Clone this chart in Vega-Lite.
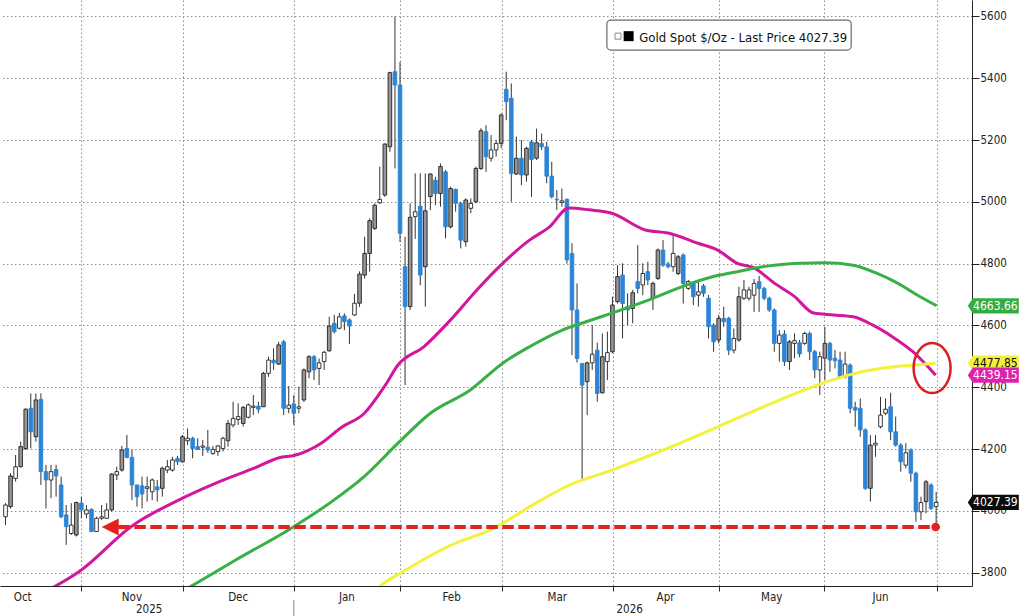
{
  "$schema": "https://vega.github.io/schema/vega-lite/v6.json",
  "width": 972,
  "height": 586,
  "autosize": {"type": "none"},
  "padding": {"left": 0, "top": 0, "right": 52, "bottom": 30},
  "background": "white",
  "config": {
    "view": {"stroke": null},
    "font": "DejaVu Sans Condensed",
    "axis": {"labelFont": "DejaVu Sans Condensed"},
    "text": {"font": "DejaVu Sans Condensed"}
  },
  "datasets": {
    "candles": [
      {"n":0,"o":3981,"h":4025,"l":3954,"c":4019},
      {"n":1,"o":4014,"h":4122,"l":4008,"c":4113},
      {"n":2,"o":4105,"h":4181,"l":4095,"c":4143},
      {"n":3,"o":4143,"h":4224,"l":4140,"c":4208},
      {"n":4,"o":4202,"h":4332,"l":4197,"c":4329},
      {"n":5,"o":4332,"h":4380,"l":4202,"c":4256},
      {"n":6,"o":4240,"h":4380,"l":4224,"c":4359},
      {"n":7,"o":4361,"h":4380,"l":4084,"c":4127},
      {"n":8,"o":4127,"h":4149,"l":4008,"c":4100},
      {"n":9,"o":4100,"h":4149,"l":4041,"c":4127},
      {"n":10,"o":4134,"h":4149,"l":4046,"c":4113},
      {"n":11,"o":4084,"h":4111,"l":3976,"c":3981},
      {"n":12,"o":3987,"h":4019,"l":3890,"c":3949},
      {"n":13,"o":3927,"h":4025,"l":3922,"c":3954},
      {"n":14,"o":3922,"h":4030,"l":3917,"c":4027},
      {"n":15,"o":4025,"h":4046,"l":3976,"c":4003},
      {"n":16,"o":3990,"h":4019,"l":3976,"c":4003},
      {"n":17,"o":4005,"h":4008,"l":3933,"c":3933},
      {"n":18,"o":3933,"h":3981,"l":3933,"c":3976},
      {"n":19,"o":3976,"h":4019,"l":3971,"c":3981},
      {"n":20,"o":3976,"h":4025,"l":3976,"c":4003},
      {"n":21,"o":4003,"h":4122,"l":3998,"c":4119},
      {"n":22,"o":4116,"h":4143,"l":4100,"c":4127},
      {"n":23,"o":4132,"h":4210,"l":4127,"c":4197},
      {"n":24,"o":4202,"h":4246,"l":4170,"c":4173},
      {"n":25,"o":4173,"h":4197,"l":4035,"c":4084},
      {"n":26,"o":4084,"h":4084,"l":4014,"c":4046},
      {"n":27,"o":4081,"h":4111,"l":4008,"c":4055},
      {"n":28,"o":4073,"h":4111,"l":4030,"c":4078},
      {"n":29,"o":4062,"h":4105,"l":4035,"c":4100},
      {"n":30,"o":4078,"h":4100,"l":4030,"c":4068},
      {"n":31,"o":4073,"h":4143,"l":4046,"c":4138},
      {"n":32,"o":4132,"h":4165,"l":4122,"c":4143},
      {"n":33,"o":4132,"h":4175,"l":4127,"c":4165},
      {"n":34,"o":4170,"h":4178,"l":4149,"c":4159},
      {"n":35,"o":4159,"h":4246,"l":4156,"c":4240},
      {"n":36,"o":4227,"h":4267,"l":4213,"c":4235},
      {"n":37,"o":4235,"h":4240,"l":4170,"c":4202},
      {"n":38,"o":4208,"h":4235,"l":4197,"c":4199},
      {"n":39,"o":4206,"h":4229,"l":4178,"c":4210},
      {"n":40,"o":4206,"h":4262,"l":4188,"c":4197},
      {"n":41,"o":4186,"h":4210,"l":4181,"c":4199},
      {"n":42,"o":4192,"h":4213,"l":4178,"c":4210},
      {"n":43,"o":4202,"h":4240,"l":4192,"c":4235},
      {"n":44,"o":4227,"h":4294,"l":4208,"c":4283},
      {"n":45,"o":4278,"h":4353,"l":4270,"c":4299},
      {"n":46,"o":4296,"h":4348,"l":4278,"c":4305},
      {"n":47,"o":4283,"h":4339,"l":4273,"c":4335},
      {"n":48,"o":4303,"h":4348,"l":4299,"c":4343},
      {"n":49,"o":4335,"h":4375,"l":4310,"c":4339},
      {"n":50,"o":4339,"h":4353,"l":4316,"c":4329},
      {"n":51,"o":4337,"h":4450,"l":4337,"c":4445},
      {"n":52,"o":4445,"h":4499,"l":4434,"c":4488},
      {"n":53,"o":4488,"h":4526,"l":4456,"c":4479},
      {"n":54,"o":4475,"h":4547,"l":4472,"c":4537},
      {"n":55,"o":4547,"h":4553,"l":4310,"c":4332},
      {"n":56,"o":4332,"h":4404,"l":4316,"c":4342},
      {"n":57,"o":4346,"h":4375,"l":4278,"c":4316},
      {"n":58,"o":4332,"h":4402,"l":4316,"c":4337},
      {"n":59,"o":4359,"h":4461,"l":4353,"c":4456},
      {"n":60,"o":4450,"h":4504,"l":4429,"c":4499},
      {"n":61,"o":4499,"h":4504,"l":4423,"c":4456},
      {"n":62,"o":4461,"h":4493,"l":4407,"c":4479},
      {"n":63,"o":4483,"h":4518,"l":4456,"c":4513},
      {"n":64,"o":4518,"h":4628,"l":4515,"c":4598},
      {"n":65,"o":4607,"h":4634,"l":4574,"c":4580},
      {"n":66,"o":4591,"h":4641,"l":4587,"c":4628},
      {"n":67,"o":4631,"h":4639,"l":4585,"c":4612},
      {"n":68,"o":4618,"h":4623,"l":4540,"c":4598},
      {"n":69,"o":4634,"h":4702,"l":4631,"c":4672},
      {"n":70,"o":4672,"h":4775,"l":4660,"c":4766},
      {"n":71,"o":4763,"h":4887,"l":4752,"c":4833},
      {"n":72,"o":4833,"h":4946,"l":4774,"c":4939},
      {"n":73,"o":4914,"h":4995,"l":4909,"c":4989},
      {"n":74,"o":4997,"h":5114,"l":4993,"c":5008},
      {"n":75,"o":5022,"h":5189,"l":5016,"c":5187},
      {"n":76,"o":5178,"h":5421,"l":5162,"c":5418},
      {"n":77,"o":5421,"h":5599,"l":5108,"c":5378},
      {"n":78,"o":5378,"h":5453,"l":4870,"c":4898},
      {"n":79,"o":4790,"h":4887,"l":4407,"c":4661},
      {"n":80,"o":4661,"h":4995,"l":4650,"c":4950},
      {"n":81,"o":4952,"h":5092,"l":4880,"c":4968},
      {"n":82,"o":4986,"h":5092,"l":4730,"c":4763},
      {"n":83,"o":4790,"h":5092,"l":4661,"c":4971},
      {"n":84,"o":5017,"h":5092,"l":4973,"c":5090},
      {"n":85,"o":5070,"h":5081,"l":4989,"c":5027},
      {"n":86,"o":5027,"h":5124,"l":4984,"c":5114},
      {"n":87,"o":5097,"h":5103,"l":4882,"c":4919},
      {"n":88,"o":4919,"h":5049,"l":4914,"c":5043},
      {"n":89,"o":5040,"h":5043,"l":4968,"c":4995},
      {"n":90,"o":4995,"h":5000,"l":4849,"c":4876},
      {"n":91,"o":4871,"h":5011,"l":4855,"c":5006},
      {"n":92,"o":4979,"h":5011,"l":4963,"c":4995},
      {"n":93,"o":5000,"h":5114,"l":4995,"c":5108},
      {"n":94,"o":5108,"h":5238,"l":5103,"c":5230},
      {"n":95,"o":5227,"h":5248,"l":5097,"c":5146},
      {"n":96,"o":5141,"h":5216,"l":5130,"c":5168},
      {"n":97,"o":5168,"h":5200,"l":5146,"c":5189},
      {"n":98,"o":5189,"h":5286,"l":5173,"c":5281},
      {"n":99,"o":5364,"h":5421,"l":5264,"c":5324},
      {"n":100,"o":5335,"h":5383,"l":5000,"c":5092},
      {"n":101,"o":5090,"h":5211,"l":5087,"c":5141},
      {"n":102,"o":5141,"h":5200,"l":5054,"c":5087},
      {"n":103,"o":5087,"h":5178,"l":5065,"c":5173},
      {"n":104,"o":5194,"h":5200,"l":5016,"c":5137},
      {"n":105,"o":5141,"h":5237,"l":5135,"c":5191},
      {"n":106,"o":5189,"h":5221,"l":5168,"c":5178},
      {"n":107,"o":5178,"h":5194,"l":5060,"c":5083},
      {"n":108,"o":5083,"h":5130,"l":5011,"c":5016},
      {"n":109,"o":5008,"h":5038,"l":4973,"c":5006},
      {"n":110,"o":4998,"h":5043,"l":4984,"c":5003},
      {"n":111,"o":5008,"h":5011,"l":4800,"c":4812},
      {"n":112,"o":4833,"h":4866,"l":4504,"c":4650},
      {"n":113,"o":4650,"h":4736,"l":4480,"c":4493},
      {"n":114,"o":4477,"h":4477,"l":4100,"c":4407},
      {"n":115,"o":4418,"h":4483,"l":4310,"c":4479},
      {"n":116,"o":4479,"h":4601,"l":4456,"c":4507},
      {"n":117,"o":4520,"h":4544,"l":4353,"c":4380},
      {"n":118,"o":4382,"h":4574,"l":4380,"c":4499},
      {"n":119,"o":4483,"h":4580,"l":4423,"c":4512},
      {"n":120,"o":4515,"h":4693,"l":4510,"c":4666},
      {"n":121,"o":4677,"h":4795,"l":4671,"c":4758},
      {"n":122,"o":4763,"h":4801,"l":4558,"c":4671},
      {"n":123,"o":4661,"h":4704,"l":4601,"c":4650},
      {"n":124,"o":4655,"h":4715,"l":4607,"c":4706},
      {"n":125,"o":4742,"h":4860,"l":4704,"c":4720},
      {"n":126,"o":4731,"h":4801,"l":4698,"c":4768},
      {"n":127,"o":4774,"h":4806,"l":4731,"c":4747},
      {"n":128,"o":4688,"h":4742,"l":4650,"c":4736},
      {"n":129,"o":4752,"h":4849,"l":4747,"c":4844},
      {"n":130,"o":4844,"h":4876,"l":4790,"c":4795},
      {"n":131,"o":4799,"h":4806,"l":4785,"c":4790},
      {"n":132,"o":4790,"h":4898,"l":4774,"c":4833},
      {"n":133,"o":4768,"h":4828,"l":4763,"c":4822},
      {"n":134,"o":4828,"h":4833,"l":4671,"c":4736},
      {"n":135,"o":4720,"h":4747,"l":4715,"c":4742},
      {"n":136,"o":4736,"h":4742,"l":4666,"c":4693},
      {"n":137,"o":4698,"h":4742,"l":4661,"c":4709},
      {"n":138,"o":4728,"h":4734,"l":4693,"c":4704},
      {"n":139,"o":4688,"h":4699,"l":4558,"c":4596},
      {"n":140,"o":4601,"h":4607,"l":4515,"c":4547},
      {"n":141,"o":4553,"h":4634,"l":4542,"c":4623},
      {"n":142,"o":4623,"h":4661,"l":4596,"c":4612},
      {"n":143,"o":4623,"h":4628,"l":4504,"c":4520},
      {"n":144,"o":4520,"h":4590,"l":4510,"c":4558},
      {"n":145,"o":4553,"h":4725,"l":4547,"c":4693},
      {"n":146,"o":4688,"h":4747,"l":4682,"c":4715},
      {"n":147,"o":4688,"h":4725,"l":4680,"c":4715},
      {"n":148,"o":4698,"h":4750,"l":4644,"c":4736},
      {"n":149,"o":4742,"h":4760,"l":4644,"c":4720},
      {"n":150,"o":4720,"h":4725,"l":4682,"c":4688},
      {"n":151,"o":4688,"h":4693,"l":4644,"c":4650},
      {"n":152,"o":4650,"h":4655,"l":4515,"c":4542},
      {"n":153,"o":4542,"h":4585,"l":4483,"c":4569},
      {"n":154,"o":4572,"h":4585,"l":4469,"c":4483},
      {"n":155,"o":4483,"h":4553,"l":4456,"c":4547},
      {"n":156,"o":4542,"h":4574,"l":4494,"c":4551},
      {"n":157,"o":4544,"h":4553,"l":4497,"c":4508},
      {"n":158,"o":4542,"h":4580,"l":4537,"c":4574},
      {"n":159,"o":4574,"h":4580,"l":4488,"c":4515},
      {"n":160,"o":4515,"h":4521,"l":4429,"c":4456},
      {"n":161,"o":4456,"h":4515,"l":4375,"c":4499},
      {"n":162,"o":4494,"h":4596,"l":4423,"c":4542},
      {"n":163,"o":4542,"h":4547,"l":4450,"c":4488},
      {"n":164,"o":4494,"h":4521,"l":4461,"c":4486},
      {"n":165,"o":4488,"h":4515,"l":4429,"c":4434},
      {"n":166,"o":4434,"h":4515,"l":4429,"c":4475},
      {"n":167,"o":4472,"h":4477,"l":4316,"c":4332},
      {"n":168,"o":4335,"h":4353,"l":4272,"c":4326},
      {"n":169,"o":4332,"h":4364,"l":4240,"c":4262},
      {"n":170,"o":4262,"h":4267,"l":4068,"c":4073},
      {"n":171,"o":4073,"h":4245,"l":4030,"c":4213},
      {"n":172,"o":4213,"h":4245,"l":4175,"c":4219},
      {"n":173,"o":4272,"h":4369,"l":4267,"c":4310},
      {"n":174,"o":4316,"h":4364,"l":4310,"c":4329},
      {"n":175,"o":4337,"h":4382,"l":4229,"c":4256},
      {"n":176,"o":4256,"h":4305,"l":4208,"c":4213},
      {"n":177,"o":4213,"h":4219,"l":4127,"c":4159},
      {"n":178,"o":4148,"h":4219,"l":4138,"c":4188},
      {"n":179,"o":4197,"h":4202,"l":4094,"c":4122},
      {"n":180,"o":4122,"h":4127,"l":3965,"c":3997},
      {"n":181,"o":3997,"h":4046,"l":3970,"c":4027},
      {"n":182,"o":4030,"h":4100,"l":3992,"c":4094},
      {"n":183,"o":4084,"h":4089,"l":4003,"c":4008},
      {"n":184,"o":4014,"h":4062,"l":3944,"c":4027.39}
    ],
    "ma": [
      {"s":"50D","n":7.5,"v":3735},{"s":"50D","n":15.0,"v":3809},{"s":"50D","n":24.8,"v":3949},{"s":"50D","n":35.1,"v":4042},
      {"s":"50D","n":41.6,"v":4090},{"s":"50D","n":49.4,"v":4140},{"s":"50D","n":54.1,"v":4172},{"s":"50D","n":57.2,"v":4180},
      {"s":"50D","n":62.5,"v":4220},{"s":"50D","n":66.4,"v":4270},{"s":"50D","n":70.9,"v":4315},{"s":"50D","n":74.9,"v":4402},
      {"s":"50D","n":77.6,"v":4472},{"s":"50D","n":82.7,"v":4531},{"s":"50D","n":88.0,"v":4618},{"s":"50D","n":93.2,"v":4715},
      {"s":"50D","n":98.3,"v":4801},{"s":"50D","n":103.6,"v":4876},{"s":"50D","n":107.5,"v":4918},{"s":"50D","n":111.4,"v":4980},
      {"s":"50D","n":115.4,"v":4974},{"s":"50D","n":119.9,"v":4963},{"s":"50D","n":126.5,"v":4909},{"s":"50D","n":131.0,"v":4899},
      {"s":"50D","n":136.9,"v":4866},{"s":"50D","n":140.8,"v":4844},{"s":"50D","n":144.7,"v":4801},{"s":"50D","n":148.0,"v":4786},
      {"s":"50D","n":152.0,"v":4737},{"s":"50D","n":155.9,"v":4695},{"s":"50D","n":159.8,"v":4640},{"s":"50D","n":163.7,"v":4634},
      {"s":"50D","n":167.6,"v":4628},{"s":"50D","n":171.5,"v":4601},{"s":"50D","n":175.4,"v":4563},{"s":"50D","n":179.4,"v":4515},
      {"s":"50D","n":183.9,"v":4439.15},
      {"s":"100D","n":34.7,"v":3737},{"s":"100D","n":37.1,"v":3760},{"s":"100D","n":45.5,"v":3841},{"s":"100D","n":57.0,"v":3949},
      {"s":"100D","n":64.5,"v":4030},{"s":"100D","n":70.9,"v":4111},{"s":"100D","n":77.6,"v":4219},{"s":"100D","n":84.0,"v":4316},
      {"s":"100D","n":91.9,"v":4391},{"s":"100D","n":98.3,"v":4478},{"s":"100D","n":103.6,"v":4531},{"s":"100D","n":110.1,"v":4585},
      {"s":"100D","n":114.8,"v":4612},{"s":"100D","n":119.9,"v":4640},{"s":"100D","n":127.1,"v":4682},{"s":"100D","n":134.3,"v":4729},
      {"s":"100D","n":139.4,"v":4756},{"s":"100D","n":144.7,"v":4774},{"s":"100D","n":150.6,"v":4792},{"s":"100D","n":157.0,"v":4801},
      {"s":"100D","n":161.9,"v":4803},{"s":"100D","n":167.6,"v":4795},{"s":"100D","n":172.1,"v":4770},{"s":"100D","n":176.0,"v":4740},
      {"s":"100D","n":179.9,"v":4702},{"s":"100D","n":184.1,"v":4663.66},
      {"s":"200D","n":73.3,"v":3745},{"s":"200D","n":74.3,"v":3760},{"s":"200D","n":78.2,"v":3800},{"s":"200D","n":87.4,"v":3884},
      {"s":"200D","n":97.2,"v":3949},{"s":"200D","n":103.6,"v":4013},{"s":"200D","n":111.4,"v":4083},{"s":"200D","n":119.9,"v":4132},
      {"s":"200D","n":131.6,"v":4207},{"s":"200D","n":140.8,"v":4272},{"s":"200D","n":150.6,"v":4342},{"s":"200D","n":161.7,"v":4414},
      {"s":"200D","n":166.8,"v":4440},{"s":"200D","n":173.5,"v":4462},{"s":"200D","n":179.9,"v":4472},{"s":"200D","n":183.9,"v":4477.85}
    ],
    "tags": [
      {"s":"100D","v":4663.66,"label":"4663.66"},
      {"s":"200D","v":4477.85,"label":"4477.85"},
      {"s":"50D","v":4439.15,"label":"4439.15"},
      {"s":"Last","v":4027.39,"label":"4027.39"}
    ],
    "support": [{"start":22.3,"arrow":20.7,"end":183.9,"level":3948}],
    "highlight": [{"n":183.2,"v":4462}],
    "years": [{"yr":"2025","n":28.4},{"yr":"2026","n":123.4}],
    "legend": [{"label":"Gold Spot $/Oz - Last Price 4027.39"}]
  },
  "layer": [
    {
      "data": {"name": "candles"},
      "mark": {"type": "rule", "color": "#333333", "strokeWidth": 1, "clip": true},
      "encoding": {
        "x": {
          "field": "n", "type": "quantitative", "title": null,
          "scale": {"domain": [-0.1, 190.1], "nice": false, "zero": false},
          "axis": {
            "title": null,
            "values": [14.97, 35.1, 57, 78, 98.1, 120.1, 141, 161.9, 184.2, 3.3, 24.9, 45.9, 67.4, 88.1, 109, 130.4, 151.4, 172.9],
            "labelExpr": "datum.value == 3.3 ? 'Oct' : datum.value == 24.9 ? 'Nov' : datum.value == 45.9 ? 'Dec' : datum.value == 67.4 ? 'Jan' : datum.value == 88.1 ? 'Feb' : datum.value == 109 ? 'Mar' : datum.value == 130.4 ? 'Apr' : datum.value == 151.4 ? 'May' : datum.value == 172.9 ? 'Jun' : ''",
            "grid": true,
            "gridColor": "#8c8c8c",
            "gridDash": [1.5, 2.5],
            "gridOpacity": {"condition": {"test": "indexof([3.3,24.9,45.9,67.4,88.1,109,130.4,151.4,172.9], datum.value) >= 0", "value": 0}, "value": 1},
            "tickOpacity": {"condition": {"test": "indexof([3.3,24.9,45.9,67.4,88.1,109,130.4,151.4,172.9], datum.value) >= 0", "value": 0}, "value": 1},
            "tickColor": "#333333",
            "tickSize": 5,
            "domainColor": "#222222",
            "labelFontSize": 11.5,
            "labelColor": "#222222",
            "labelPadding": 0,
            "labelOverlap": false,
            "labelFlush": false,
            "labelBound": false
          }
        },
        "y": {
          "field": "l", "type": "quantitative", "title": null,
          "scale": {"domain": [3757, 5653], "nice": false, "zero": false},
          "axis": {
            "title": null,
            "orient": "right",
            "format": "d",
            "values": [3800,3900,4000,4100,4200,4300,4400,4500,4600,4700,4800,4900,5000,5100,5200,5300,5400,5500,5600],
            "labelExpr": "datum.value % 200 == 0 ? datum.label : ''",
            "grid": true,
            "gridColor": "#8c8c8c",
            "gridDash": [1.5, 2.5],
            "gridOpacity": {"condition": {"test": "datum.value % 200 == 0", "value": 1}, "value": 0},
            "tickSize": {"condition": {"test": "datum.value % 200 == 0", "value": 7}, "value": 4},
            "tickColor": "#222222",
            "domainColor": "#222222",
            "labelFontSize": 11.5,
            "labelColor": "#222222",
            "labelPadding": 1,
            "labelOverlap": false
          }
        },
        "y2": {"field": "h"}
      }
    },
    {
      "data": {"name": "candles"},
      "mark": {"type": "bar", "width": 3.6, "strokeWidth": 0.9, "clip": true},
      "encoding": {
        "x": {"field": "n", "type": "quantitative", "title": null},
        "y": {"field": "o", "type": "quantitative", "title": null},
        "y2": {"field": "c"},
        "fill": {"condition": [{"test": "datum.c < datum.o", "value": "#2b84d6"}, {"test": "datum.c - datum.o > 45", "value": "#969696"}], "value": "#ffffff"},
        "stroke": {"condition": {"test": "datum.c < datum.o", "value": "#2b84d6"}, "value": "#222222"}
      }
    },
    {
      "data": {"name": "ma"},
      "mark": {"type": "line", "strokeWidth": 3, "clip": true, "interpolate": "monotone"},
      "encoding": {
        "x": {"field": "n", "type": "quantitative", "title": null},
        "y": {"field": "v", "type": "quantitative", "title": null},
        "color": {"field": "s", "type": "nominal", "scale": {"domain": ["50D", "100D", "200D"], "range": ["#d3179c", "#38b045", "#f2f23a"]}, "legend": null}
      }
    },
    {
      "data": {"name": "support"},
      "mark": {"type": "rule", "color": "#e3201b", "strokeWidth": 4, "strokeDash": [11.5, 4.5]},
      "encoding": {
        "x": {"field": "start", "type": "quantitative", "title": null},
        "x2": {"field": "end"},
        "y": {"field": "level", "type": "quantitative", "title": null}
      }
    },
    {
      "data": {"name": "support"},
      "mark": {"type": "point", "shape": "M-1,0L1,-1L1,1Z", "size": 289, "filled": true, "color": "#e3201b", "opacity": 1},
      "encoding": {
        "x": {"field": "arrow", "type": "quantitative", "title": null},
        "y": {"field": "level", "type": "quantitative", "title": null}
      }
    },
    {
      "data": {"name": "support"},
      "mark": {"type": "point", "shape": "circle", "size": 75, "filled": true, "color": "#e3201b", "opacity": 1},
      "encoding": {
        "x": {"field": "end", "type": "quantitative", "title": null},
        "y": {"field": "level", "type": "quantitative", "title": null}
      }
    },
    {
      "data": {"name": "highlight"},
      "mark": {"type": "point", "shape": "M-0.74,0A0.74,1,0,1,0,0.74,0A0.74,1,0,1,0,-0.74,0Z", "size": 2500, "filled": false, "stroke": "#d91f1f", "strokeWidth": 2.5, "opacity": 1},
      "encoding": {
        "x": {"field": "n", "type": "quantitative", "title": null},
        "y": {"field": "v", "type": "quantitative", "title": null}
      }
    },
    {
      "data": {"name": "legend"},
      "mark": {"type": "rect", "fill": "#ffffff", "stroke": "#6b6b6b", "strokeWidth": 1.2, "cornerRadius": 4},
      "encoding": {
        "x": {"datum": 118.9, "type": "quantitative", "title": null},
        "x2": {"datum": 167.2},
        "y": {"datum": 5588, "type": "quantitative", "title": null},
        "y2": {"datum": 5491}
      }
    },
    {
      "data": {"name": "legend"},
      "mark": {"type": "point", "shape": "square", "size": 36, "filled": false, "stroke": "#8a8a8a", "strokeWidth": 1, "opacity": 1},
      "encoding": {
        "x": {"datum": 121.1, "type": "quantitative", "title": null},
        "y": {"datum": 5536, "type": "quantitative", "title": null}
      }
    },
    {
      "data": {"name": "legend"},
      "mark": {"type": "point", "shape": "square", "size": 100, "filled": true, "color": "#000000", "opacity": 1},
      "encoding": {
        "x": {"datum": 123.2, "type": "quantitative", "title": null},
        "y": {"datum": 5536, "type": "quantitative", "title": null}
      }
    },
    {
      "data": {"name": "legend"},
      "mark": {"type": "text", "align": "left", "baseline": "middle", "fontSize": 13, "color": "#111111"},
      "encoding": {
        "x": {"datum": 125.3, "type": "quantitative", "title": null},
        "y": {"datum": 5531, "type": "quantitative", "title": null},
        "text": {"field": "label"}
      }
    },
    {
      "data": {"name": "tags"},
      "mark": {"type": "point", "shape": "M-1,0L-0.8,-0.3L1,-0.3L1,0.3L-0.8,0.3Z", "size": 2601, "filled": true, "opacity": 1},
      "encoding": {
        "x": {"datum": 195.3, "type": "quantitative", "title": null},
        "y": {"field": "v", "type": "quantitative", "title": null},
        "fill": {"field": "s", "type": "nominal", "scale": {"domain": ["100D", "200D", "50D", "Last"], "range": ["#35ad45", "#f5ef3a", "#e020ae", "#0a0a0a"]}, "legend": null}
      }
    },
    {
      "data": {"name": "tags"},
      "mark": {"type": "text", "align": "left", "baseline": "middle", "fontSize": 12},
      "encoding": {
        "x": {"datum": 191.3, "type": "quantitative", "title": null},
        "y": {"field": "v", "type": "quantitative", "title": null},
        "text": {"field": "label"},
        "fill": {"condition": {"test": "datum.s == '200D'", "value": "#111111"}, "value": "#ffffff"}
      }
    },
    {
      "data": {"name": "years"},
      "mark": {"type": "text", "align": "center", "baseline": "middle", "fontSize": 11.5, "color": "#222222"},
      "encoding": {
        "x": {"field": "n", "type": "quantitative", "title": null},
        "y": {"datum": 3680, "type": "quantitative", "title": null},
        "text": {"field": "yr"}
      }
    },
    {
      "data": {"name": "years"},
      "transform": [{"filter": "datum.yr == '2026'"}],
      "mark": {"type": "rule", "color": "#8a8a8a", "strokeWidth": 1},
      "encoding": {
        "x": {"datum": 57, "type": "quantitative", "title": null},
        "y": {"datum": 3712, "type": "quantitative", "title": null},
        "y2": {"datum": 3650}
      }
    }
  ]
}
